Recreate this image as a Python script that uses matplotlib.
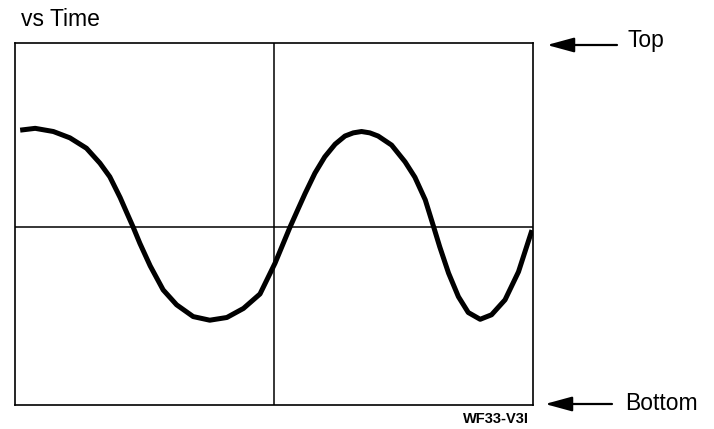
import matplotlib.pyplot as plt
from matplotlib.patches import FancyArrowPatch

# Valores (tiempo en divisiones, amplitud en divisiones)
tiempo = [0.10, 0.39, 0.74, 1.06, 1.38, 1.64, 1.83, 2.03, 2.16, 2.28, 2.41, 2.61,
          2.86, 3.12, 3.44, 3.76, 4.09, 4.41, 4.73, 5.02, 5.31, 5.47, 5.60, 5.79,
          5.98, 6.18, 6.37, 6.53, 6.69, 6.85, 7.01, 7.27, 7.53, 7.72, 7.92, 8.08,
          8.20, 8.37, 8.56, 8.75, 8.98, 9.20, 9.46, 9.72, 9.98]
amplitud = [2.14, 2.18, 2.11, 1.97, 1.74, 1.41, 1.11, 0.65, 0.31, 0.00, -0.36, -0.86,
            -1.39, -1.72, -1.98, -2.06, -2.00, -1.80, -1.48, -0.80, 0.00, 0.41, 0.74, 1.19,
            1.55, 1.83, 2.01, 2.08, 2.11, 2.08, 2.01, 1.81, 1.44, 1.10, 0.60, 0.01,
            -0.44, -1.02, -1.54, -1.89, -2.04, -1.94, -1.61, -0.99, -0.07]

titulo = 'vs Time'
etiqueta_arriba = 'Top'
etiqueta_abajo = 'Bottom'
codigo = 'WF33-V3I'

plt.rcParams['font.family'] = ['Liberation Sans', 'DejaVu Sans']

W, H = 714, 429
fig = plt.figure(figsize=(W / 100, H / 100), dpi=100)

# Recuadro de la pantalla
ax = fig.add_axes([15 / W, (H - 405) / H, 518 / W, 362 / H])
ax.plot(tiempo, amplitud, color='black', linewidth=3.6,
        solid_capstyle='butt', solid_joinstyle='round')
ax.axhline(0, color='black', linewidth=1.1)
ax.axvline(5, color='black', linewidth=1.1)
ax.set_xlim(0, 10)
ax.set_ylim(-3.934, 4.066)
ax.set_xticks([])
ax.set_yticks([])
for s in ax.spines.values():
    s.set_linewidth(1.2)

# Textos
fig.text(21 / W, 1 - 20 / H, titulo, fontsize=16.5, va='center', ha='left')
fig.text(627 / W, 1 - 41 / H, etiqueta_arriba, fontsize=16.5, va='center', ha='left')
fig.text(625 / W, 1 - 404 / H, etiqueta_abajo, fontsize=16.5, va='center', ha='left')
fig.text(496 / W, 1 - 419 / H, codigo, fontsize=10.5, fontweight='bold',
         va='center', ha='center')

# Flechas
for x0, x1, y in [(617, 547, 45), (612, 545, 404)]:
    fig.add_artist(FancyArrowPatch(
        (x0 / W, 1 - y / H), (x1 / W, 1 - y / H), transform=fig.transFigure,
        arrowstyle='-|>,head_length=1.1,head_width=0.3', mutation_scale=15,
        color='black', linewidth=1.6, shrinkA=0, shrinkB=0))

fig.savefig('out.png', dpi=100)
